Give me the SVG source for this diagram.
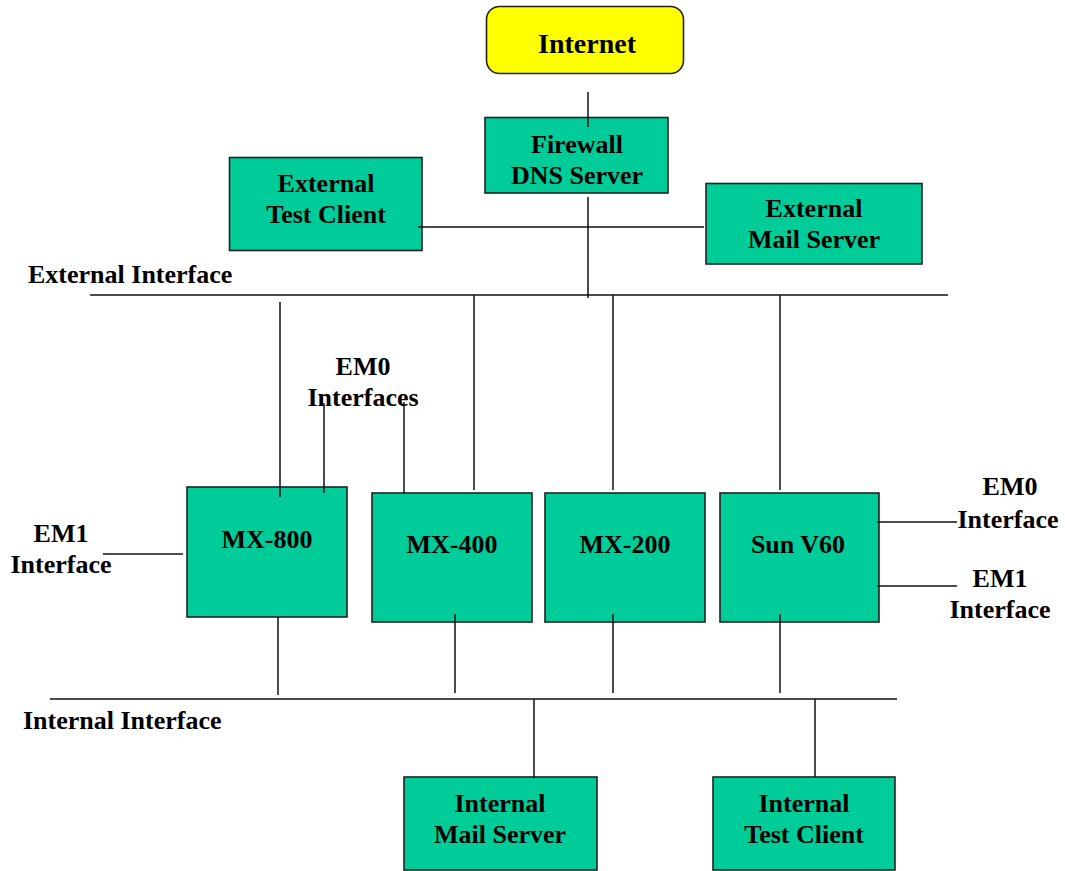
<svg xmlns="http://www.w3.org/2000/svg" width="1065" height="871" viewBox="0 0 1065 871">
<style>
text{font-family:"Liberation Serif","Times New Roman",serif;font-weight:bold;font-size:26px;fill:#000}
.c{text-anchor:middle}
.box{fill:#00CC99;stroke:#222;stroke-width:1.6}
.inet{fill:#FFFF00;stroke:#222;stroke-width:1.6}
#connectors line{stroke:#111;stroke-width:1.5}
</style>
<rect width="1065" height="871" fill="#fff"/>
<g id="internet"><rect class="inet" x="486.5" y="6.5" width="197" height="67" rx="13"/><text class="c" x="587" y="53" style="font-size:28px">Internet</text></g>
<g id="firewall"><rect class="box" x="485" y="117.5" width="183" height="75.5"/><text class="c" x="577" y="153">Firewall</text><text class="c" x="577" y="184">DNS Server</text></g>
<g id="ext-client"><rect class="box" x="229.5" y="157.5" width="192.5" height="93"/><text class="c" x="326" y="192">External</text><text class="c" x="326" y="223">Test Client</text></g>
<g id="ext-mail"><rect class="box" x="706" y="183.5" width="216" height="80.5"/><text class="c" x="814" y="217">External</text><text class="c" x="814" y="248">Mail Server</text></g>
<g id="mx800"><rect class="box" x="187" y="487" width="160" height="130"/><text class="c" x="267" y="548">MX-800</text></g>
<g id="mx400"><rect class="box" x="372" y="493" width="160" height="129"/><text class="c" x="452" y="553">MX-400</text></g>
<g id="mx200"><rect class="box" x="545" y="493" width="160" height="129"/><text class="c" x="625" y="553">MX-200</text></g>
<g id="sunv60"><rect class="box" x="720" y="493" width="159" height="129"/><text class="c" x="798" y="553">Sun V60</text></g>
<g id="int-mail"><rect class="box" x="404" y="777" width="193" height="93"/><text class="c" x="500" y="812">Internal</text><text class="c" x="500" y="843">Mail Server</text></g>
<g id="int-client"><rect class="box" x="713" y="777" width="182" height="93"/><text class="c" x="804" y="812">Internal</text><text class="c" x="804" y="843">Test Client</text></g>
<g id="labels">
<text x="28" y="283">External Interface</text>
<text x="23" y="729">Internal Interface</text>
<text class="c" x="363" y="375">EM0</text><text class="c" x="363" y="406">Interfaces</text>
<text class="c" x="61" y="542">EM1</text><text class="c" x="61" y="573">Interface</text>
<text class="c" x="1010" y="495">EM0</text><text class="c" x="1008" y="528">Interface</text>
<text class="c" x="1000" y="587">EM1</text><text class="c" x="1000" y="618">Interface</text>
</g>
<g id="connectors">
<line x1="588" y1="92" x2="588" y2="127"/>
<line x1="418" y1="227" x2="704" y2="227"/>
<line x1="588" y1="197" x2="588" y2="298"/>
<line x1="90" y1="295" x2="948" y2="295"/>
<line x1="280" y1="302" x2="280" y2="497"/>
<line x1="474" y1="295" x2="474" y2="490"/>
<line x1="613" y1="295" x2="613" y2="490"/>
<line x1="780" y1="295" x2="780" y2="490"/>
<line x1="324" y1="403" x2="324" y2="493"/>
<line x1="404" y1="402" x2="404" y2="493"/>
<line x1="103" y1="554" x2="183" y2="554"/>
<line x1="877" y1="522" x2="957" y2="522"/>
<line x1="877" y1="586" x2="957" y2="586"/>
<line x1="278" y1="617" x2="278" y2="695"/>
<line x1="455" y1="614" x2="455" y2="693"/>
<line x1="613" y1="614" x2="613" y2="693"/>
<line x1="780" y1="614" x2="780" y2="693"/>
<line x1="50" y1="699" x2="897" y2="699"/>
<line x1="534" y1="699" x2="534" y2="778"/>
<line x1="815" y1="699" x2="815" y2="777"/>
</g>
</svg>
